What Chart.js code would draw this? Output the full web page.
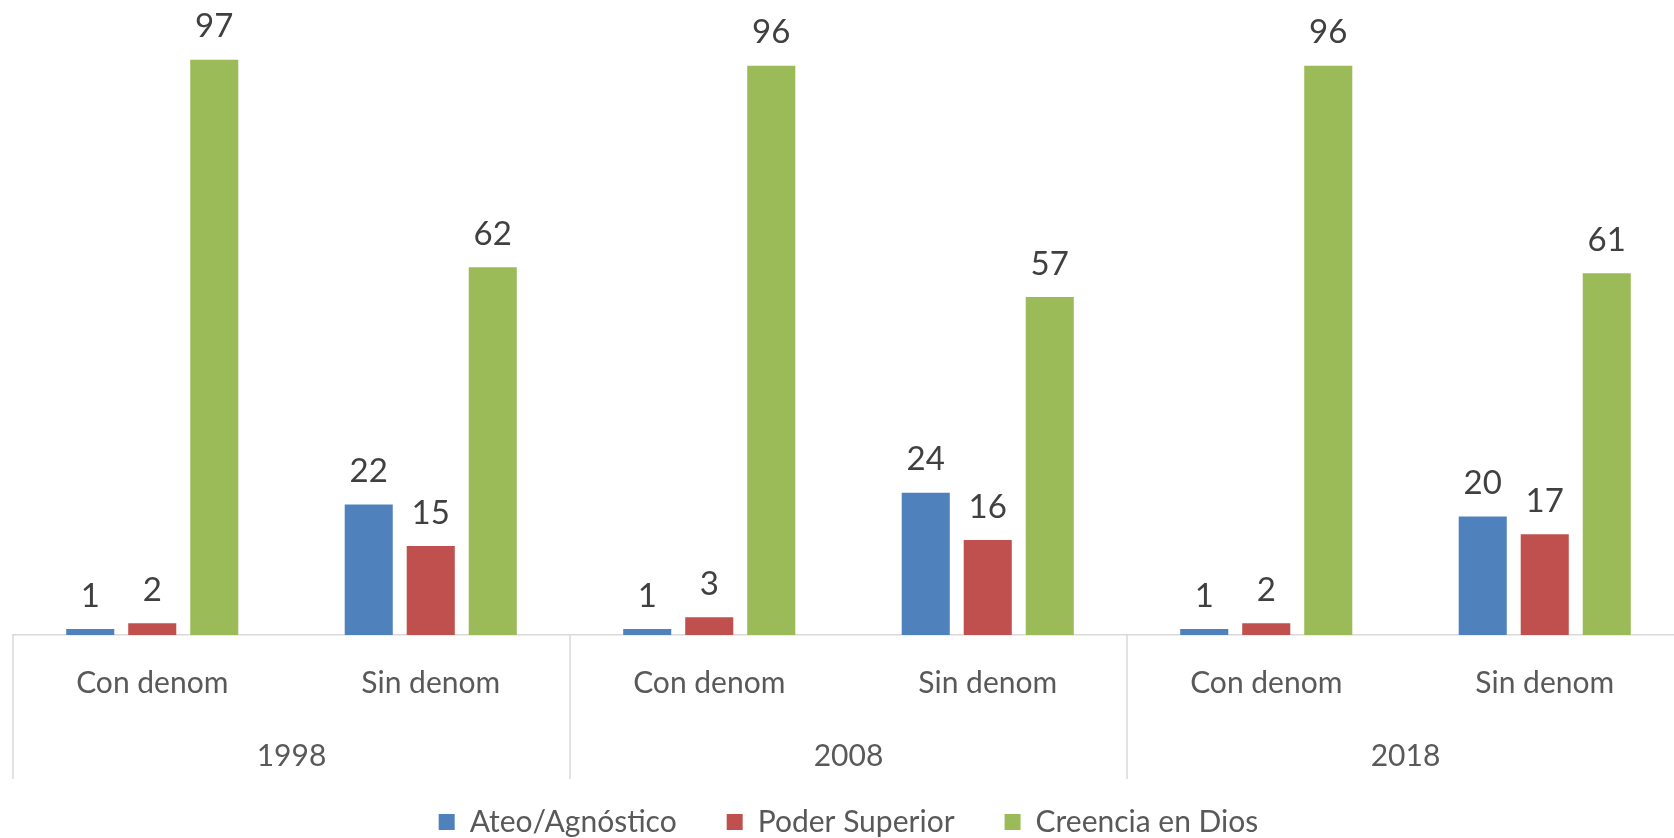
<!DOCTYPE html>
<html>
<head>
<meta charset="utf-8">
<script src="https://cdn.jsdelivr.net/npm/chart.js@4"></script>
<style>
  html, body { margin: 0; padding: 0; background: #ffffff; overflow: hidden; width: 1674px; height: 838px; }
  #wrap { position: absolute; left: 0; top: 0; width: 1684px; height: 847px; }
</style>
</head>
<body>
<div id="wrap"><canvas id="c" width="1684" height="847"></canvas></div>
<script>
const years = ['1998', '2008', '2018'];
const subCategories = ['Con denom', 'Sin denom'];
const seriesNames = ['Ateo/Agnóstico', 'Poder Superior', 'Creencia en Dios'];
const ateo = [1, 22, 1, 24, 1, 20];
const poder = [2, 15, 3, 16, 2, 17];
const dios = [97, 62, 96, 57, 96, 61];
const colors = ['#4F81BD', '#C0504D', '#9BBB59'];

const labels = [];
years.forEach(() => subCategories.forEach(s => labels.push(s)));

const FONT = 'Lato, "Open Sans", sans-serif';

const groupPlugin = {
  id: 'groupPlugin',
  afterDatasetsDraw(chart) {
    const ctx = chart.ctx;
    ctx.save();
    ctx.font = '33px ' + FONT;
    ctx.fillStyle = '#404040';
    ctx.textAlign = 'center';
    ctx.textBaseline = 'middle';
    chart.data.datasets.forEach((ds, di) => {
      const meta = chart.getDatasetMeta(di);
      meta.data.forEach((bar, i) => {
        ctx.fillText(String(ds.data[i]), bar.x, bar.y - 33);
      });
    });
    ctx.restore();
  },
  afterDraw(chart) {
    const ctx = chart.ctx;
    const x = chart.scales.x;
    const step = (x.getPixelForValue(1) - x.getPixelForValue(0));
    const base = chart.chartArea.bottom;
    ctx.save();
    ctx.strokeStyle = '#d9d9d9';
    ctx.lineWidth = 1.5;
    for (let g = 0; g <= years.length; g++) {
      const idx = g * subCategories.length;
      const px = x.getPixelForValue(0) - step / 2 + idx * step;
      ctx.beginPath();
      ctx.moveTo(px, base);
      ctx.lineTo(px, 779);
      ctx.stroke();
    }
    ctx.font = '30px ' + FONT;
    ctx.fillStyle = '#595959';
    ctx.textAlign = 'center';
    ctx.textBaseline = 'middle';
    years.forEach((y, g) => {
      const a = x.getPixelForValue(g * subCategories.length);
      const b = x.getPixelForValue(g * subCategories.length + subCategories.length - 1);
      ctx.fillText(y, (a + b) / 2, 756);
    });
    ctx.restore();
  }
};

new Chart(document.getElementById('c'), {
  type: 'bar',
  data: {
    labels: labels,
    datasets: [
      { label: seriesNames[0], data: ateo, backgroundColor: colors[0] },
      { label: seriesNames[1], data: poder, backgroundColor: colors[1] },
      { label: seriesNames[2], data: dios, backgroundColor: colors[2] }
    ]
  },
  options: {
    responsive: false,
    animation: false,
    layout: { padding: { left: 13, right: 0, top: 42, bottom: 0 } },
    datasets: { bar: { categoryPercentage: 0.668, barPercentage: 0.775 } },
    scales: {
      y: { display: false, min: 0, max: 100 },
      x: {
        grid: { display: false, drawTicks: false },
        border: { display: true, color: '#d9d9d9', width: 1.5 },
        ticks: { font: { family: FONT, size: 30 }, color: '#595959', padding: 30, maxRotation: 0 },
        afterFit(scale) { scale.height = 122; }
      }
    },
    plugins: {
      legend: {
        position: 'bottom',
        labels: {
          boxWidth: 16, boxHeight: 16, padding: 50,
          font: { family: FONT, size: 30 }, color: '#595959'
        }
      },
      tooltip: { enabled: false }
    }
  },
  plugins: [groupPlugin]
});
</script>
</body>
</html>
